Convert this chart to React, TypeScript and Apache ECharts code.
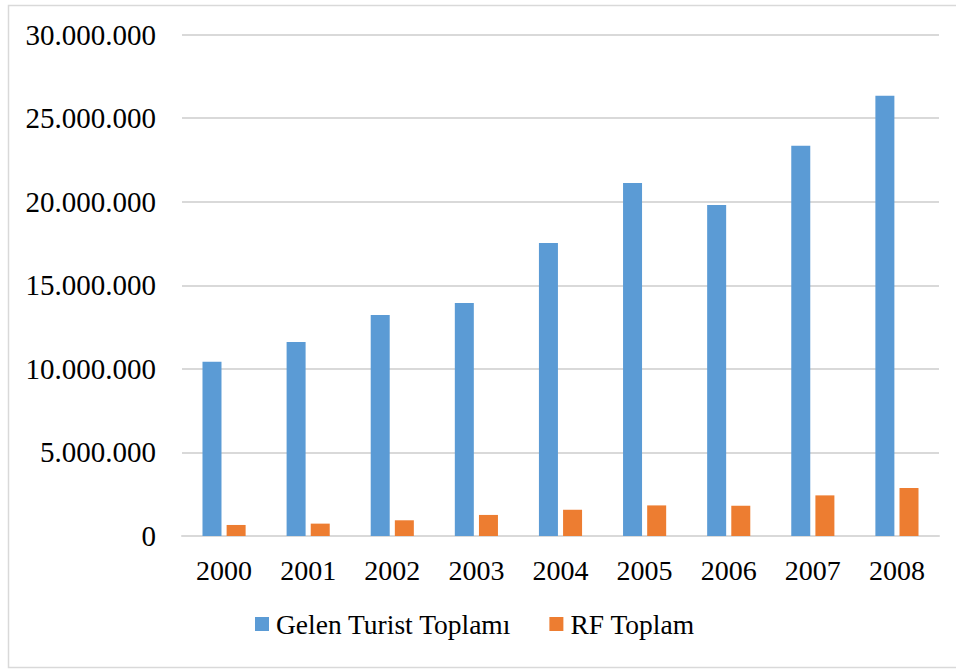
import React, { useEffect, useRef } from "react";
import * as echarts from "echarts";

const categories = ["2000", "2001", "2002", "2003", "2004", "2005", "2006", "2007", "2008"];
const gelenTurist = [10430000, 11600000, 13220000, 13940000, 17520000, 21110000, 19800000, 23340000, 26340000];
const rfToplam = [660000, 740000, 940000, 1260000, 1570000, 1830000, 1810000, 2430000, 2870000];
const seriesNames = ["Gelen Turist Toplamı", "RF Toplam"];

const FONT = "Liberation Serif";

function fmt(v: number): string {
  return String(Math.round(v)).replace(/\B(?=(\d{3})+(?!\d))/g, ".");
}

export default function App() {
  const ref = useRef<HTMLDivElement>(null);
  useEffect(() => {
    if (!ref.current) return;
    const chart = echarts.init(ref.current, null, { renderer: "svg" });
    chart.setOption({
      animation: false,
      backgroundColor: "#ffffff",
      textStyle: { fontFamily: FONT },
      graphic: [
        {
          type: "rect",
          shape: { x: 8.5, y: 5.5, width: 960, height: 662 },
          style: { fill: "none", stroke: "#D9D9D9", lineWidth: 1.5 },
          silent: true,
          z: -10,
        },
      ],
      grid: { left: 182, right: 17, top: 34.5, bottom: 133, containLabel: false },
      legend: {
        top: 610,
        left: 255,
        padding: 0,
        itemWidth: 14,
        itemHeight: 14,
        itemGap: 38,
        icon: "rect",
        textStyle: { fontFamily: FONT, fontSize: 27.5, color: "#000000", padding: [0, 0, 0, 2] },
        data: seriesNames,
      },
      xAxis: {
        type: "category",
        data: categories,
        axisLine: { show: true, lineStyle: { color: "#D9D9D9", width: 2 } },
        axisTick: { show: false },
        axisLabel: { fontFamily: FONT, fontSize: 28, color: "#000000", margin: 20 },
      },
      yAxis: {
        type: "value",
        min: 0,
        max: 30000000,
        interval: 5000000,
        axisLine: { show: false },
        axisTick: { show: false },
        splitLine: { lineStyle: { color: "#D9D9D9", width: 2 } },
        axisLabel: {
          fontFamily: FONT,
          fontSize: 29,
          color: "#000000",
          margin: 26,
          formatter: (v: number) => fmt(v),
        },
      },
      series: [
        {
          name: seriesNames[0],
          type: "bar",
          data: gelenTurist,
          barWidth: 19,
          barGap: "27%",
          itemStyle: { color: "#5B9BD5" },
        },
        {
          name: seriesNames[1],
          type: "bar",
          data: rfToplam,
          barWidth: 19,
          barGap: "27%",
          itemStyle: { color: "#ED7D31" },
        },
      ],
    });
    return () => chart.dispose();
  }, []);
  return (
    <div
      ref={ref}
      style={{ position: "fixed", left: 0, top: 0, width: 956, height: 669 }}
    />
  );
}
